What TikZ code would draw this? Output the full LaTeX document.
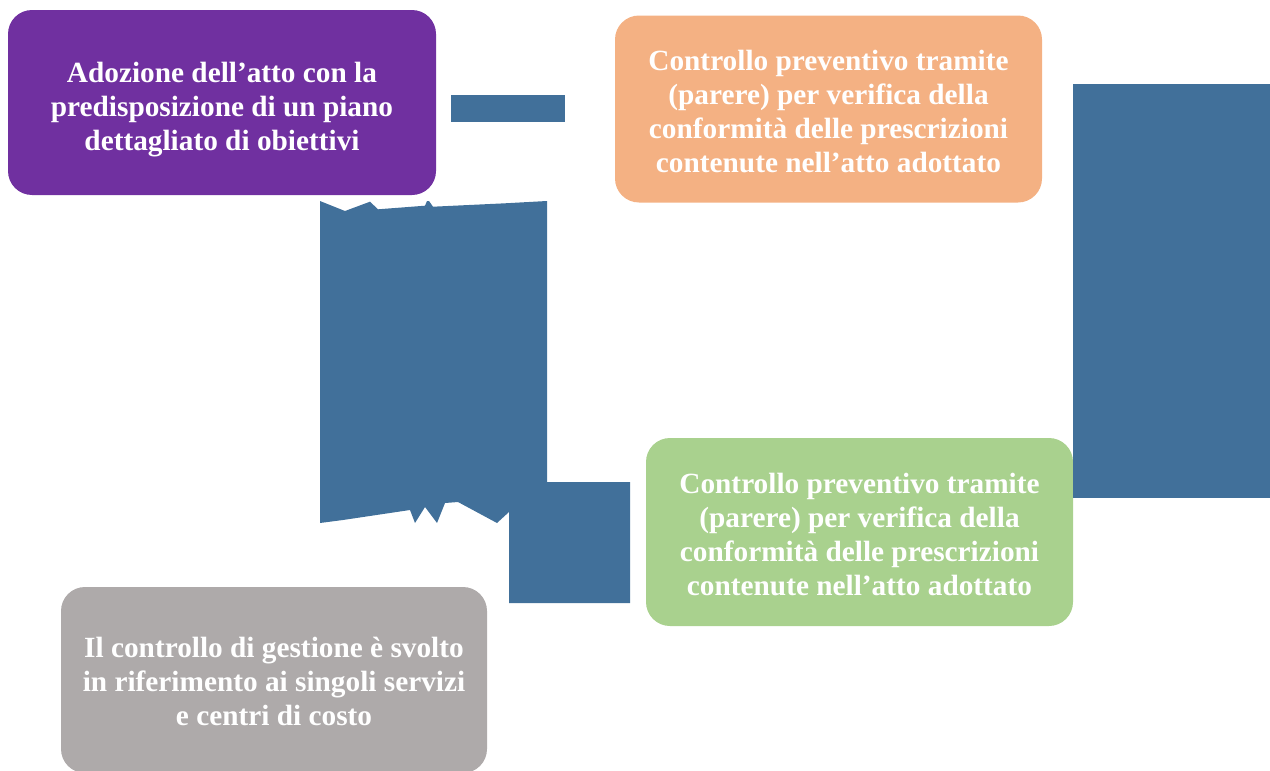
\documentclass[tikz,border=0pt]{standalone}
\usepackage{fontspec}
\setmainfont{Liberation Serif}
\definecolor{cpurple}{HTML}{7030A0}
\definecolor{corange}{HTML}{F4B183}
\definecolor{cgreen}{HTML}{A9D18E}
\definecolor{cgrey}{HTML}{AEAAAA}
\definecolor{cblue}{HTML}{41709A}
\begin{document}
\begin{tikzpicture}[x=1pt,y=-1pt,
  box/.style={rounded corners=24pt, inner sep=0pt, draw=none},
  boxtext/.style={inner sep=0pt, align=center, text=white,
    font=\fontsize{29.3}{34}\selectfont\bfseries},
  blueshape/.style={fill=cblue, draw=none}]
\useasboundingbox (0,0) rectangle (1270,771);
\node[box, fill=cpurple, minimum width=428pt, minimum height=185pt] (adozione) at (222,102.5) {};
\node[boxtext, yshift=-7pt] (adozioneT) at (adozione.center)
  {Adozione dell’atto con la\\predisposizione di un piano\\dettagliato di obiettivi};
\node[box, fill=corange, minimum width=427pt, minimum height=187pt] (prevA) at (828.5,109) {};
\node[boxtext, yshift=-2.5pt] (prevAT) at (prevA.center)
  {Controllo preventivo tramite\\(parere) per verifica della\\conformità delle prescrizioni\\contenute nell’atto adottato};
\node[box, fill=cgreen, minimum width=427pt, minimum height=188pt] (prevB) at (859.5,532) {};
\node[boxtext, yshift=-2.5pt] (prevBT) at (prevB.center)
  {Controllo preventivo tramite\\(parere) per verifica della\\conformità delle prescrizioni\\contenute nell’atto adottato};
\node[box, fill=cgrey, minimum width=426pt, minimum height=186pt] (gestione) at (274,680) {};
\node[boxtext, yshift=-1.5pt] (gestioneT) at (gestione.center)
  {Il controllo di gestione è svolto\\in riferimento ai singoli servizi\\e centri di costo};
% broken arrow shapes
\fill[blueshape] (451,95) rectangle (565,122);
\fill[blueshape] (1073,84) rectangle (1270,498);
\fill[blueshape] (320,201) -- (345,211) -- (370,201.7) -- (378,209.3) -- (425,205.7)
  -- (427,201) -- (429,201) -- (433,206.7) -- (505,203.3) -- (547,201)
  -- (547,482) -- (630,482) -- (630,603) -- (509,603) -- (509,512) -- (497,523)
  -- (458,502) -- (445,503) -- (437,523) -- (425,507) -- (415,523) -- (410,510)
  -- (343,520) -- (320,523) -- cycle;
\end{tikzpicture}
\end{document}
